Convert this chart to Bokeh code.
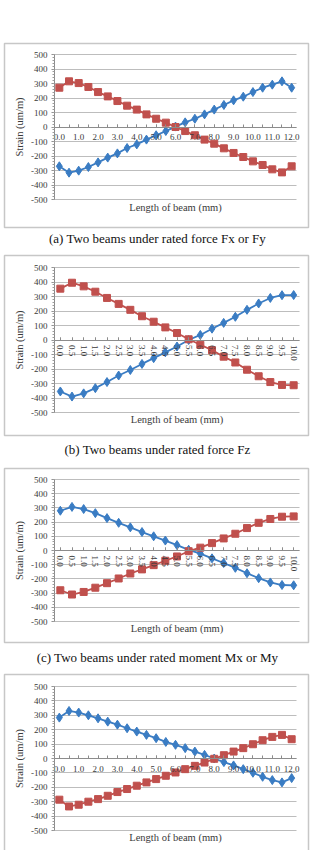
from bokeh.plotting import figure
from bokeh.models import (Range1d, SingleIntervalTicker, FixedTicker, PrintfTickFormatter,
                          Label, BoxAnnotation, ColumnDataSource)
from bokeh.layouts import column
from bokeh.embed import file_html
from bokeh.resources import INLINE

# ---------------- data ----------------
x_12 = ["0.0", "0.5", "1.0", "1.5", "2.0", "2.5", "3.0", "3.5", "4.0", "4.5", "5.0", "5.5", "6.0",
        "6.5", "7.0", "7.5", "8.0", "8.5", "9.0", "9.5", "10.0", "10.5", "11.0", "11.5", "12.0"]
x_10 = ["0.0", "0.5", "1.0", "1.5", "2.0", "2.5", "3.0", "3.5", "4.0", "4.5", "5.0",
        "5.5", "6.0", "6.5", "7.0", "7.5", "8.0", "8.5", "9.0", "9.5", "10.0"]
x_12_tick_labels = ["0.0", "1.0", "2.0", "3.0", "4.0", "5.0", "6.0", "7.0", "8.0", "9.0",
                    "10.0", "11.0", "12.0"]
x_10_tick_labels = x_10

a_blue = [-271, -315, -301, -276, -244, -211, -182, -145, -120, -87, -57, -28, 3,
          32, 57, 87, 120, 152, 184, 209, 241, 271, 292, 315, 271]
a_red = [271, 315, 303, 276, 241, 211, 179, 147, 120, 87, 57, 30, 0,
         -28, -57, -87, -115, -147, -179, -207, -237, -262, -292, -313, -271]

b_blue = [-355, -390, -368, -332, -290, -245, -207, -165, -125, -85, -45,
          0, 35, 78, 118, 160, 208, 252, 290, 309, 310]
b_red = [354, 395, 370, 333, 290, 249, 208, 164, 126, 87, 48,
         5, -33, -70, -115, -155, -205, -250, -290, -310, -312]

c_blue = [280, 307, 292, 263, 228, 195, 163, 130, 100, 70, 38,
          5, -22, -55, -88, -122, -160, -195, -225, -243, -245]
c_red = [-280, -310, -292, -262, -230, -197, -162, -133, -103, -72, -42,
         -5, 20, 52, 85, 118, 158, 195, 222, 238, 240]

d_blue = [284, 330, 319, 300, 279, 256, 235, 210, 187, 164, 141, 115, 95,
          72, 48, 25, 0, -25, -48, -74, -99, -127, -150, -166, -136]
d_red = [-286, -333, -321, -300, -282, -259, -233, -212, -189, -166, -143, -120, -97,
         -74, -51, -28, -2, 23, 48, 72, 99, 127, 150, 164, 134]

captions = ["(a) Two beams under rated force Fx or Fy",
            "(b) Two beams under rated force Fz",
            "(c) Two beams under rated moment Mx or My",
            ""]
y_ticks = [-500, -400, -300, -200, -100, 0, 100, 200, 300, 400, 500]
y_tick_labels = ["-500", "-400", "-300", "-200", "-100", "0", "100", "200", "300", "400", "500"]
x_title = "Length of beam (mm)"
y_title = "Strain (um/m)"

# ---------------- style ----------------
BLUE = "#3a7cc3"
RED = "#c0504d"
FONT = "Liberation Serif"
TXT = "#3a3a3a"
W = 314


def panel(cats, tick_labels, blue, red, caption, H, box_top, box_bottom, ftop, fh, fleft, fright,
          xl_y, cap_y, vertical):
    xs = [float(c) for c in cats]
    x0, x1 = xs[0] - 0.25, xs[-1] + 0.25           # category span of the plot area
    ppu_x = (fright - fleft) / (x1 - x0)
    ppu_y = fh / (y_ticks[-1] - y_ticks[0])
    xr = Range1d(x0 - fleft / ppu_x, x1 + (W - fright) / ppu_x)
    yr = Range1d(y_ticks[0] - (H - ftop - fh) / ppu_y, y_ticks[-1] + ftop / ppu_y)

    p = figure(x_range=xr, y_range=yr, width=W, height=H, min_border=0,
               output_backend="svg", toolbar_location=None)
    p.outline_line_color = None
    p.background_fill_color = "white"
    p.border_fill_color = "white"

    src = ColumnDataSource(dict(x=xs, blue=blue, red=red))
    p.line("x", "blue", source=src, line_color=BLUE, line_width=1.8)
    p.scatter("x", "blue", source=src, marker="diamond", size=9, fill_color=BLUE, line_color=BLUE)
    p.line("x", "red", source=src, line_color=RED, line_width=1.8)
    p.scatter("x", "red", source=src, marker="square", size=7, fill_color=RED, line_color=RED)

    # y axis at the plot-area left edge
    yax = p.yaxis[0]
    yax.fixed_location = x0
    yax.bounds = (y_ticks[0], y_ticks[-1])
    yax.ticker = SingleIntervalTicker(interval=100, num_minor_ticks=5)
    yax.major_label_overrides = {t: l for t, l in zip(y_ticks, y_tick_labels)}
    yax.axis_line_color = "#8c8c8c"
    yax.major_tick_line_color = "#8c8c8c"
    yax.minor_tick_line_color = "#9c9c9c"
    yax.major_tick_out = 3
    yax.major_tick_in = 0
    yax.minor_tick_out = 2
    yax.minor_tick_in = 0
    yax.major_label_standoff = 4
    yax.major_label_text_font = FONT
    yax.major_label_text_font_size = "9px"
    yax.major_label_text_color = TXT
    yax.axis_label = y_title
    yax.axis_label_text_font = FONT
    yax.axis_label_text_font_style = "normal"
    yax.axis_label_text_font_size = "10.5px"
    yax.axis_label_text_color = TXT
    yax.axis_label_standoff = 3

    # x axis crossing at zero
    xax = p.xaxis[0]
    xax.fixed_location = 0
    xax.bounds = (x0, x1)
    xax.ticker = FixedTicker(ticks=[float(t) for t in tick_labels], minor_ticks=xs)
    xax.formatter = PrintfTickFormatter(format="%.1f")
    xax.axis_line_color = "#8c8c8c"
    xax.major_tick_line_color = "#8c8c8c"
    xax.minor_tick_line_color = "#8c8c8c"
    xax.major_tick_in = 3
    xax.major_tick_out = 0
    xax.minor_tick_in = 3
    xax.minor_tick_out = 0
    xax.major_label_text_font = FONT
    xax.major_label_text_font_size = "9px"
    xax.major_label_text_color = TXT
    xax.major_label_standoff = 7
    if vertical:
        xax.major_label_orientation = "vertical"
        xax.major_label_standoff = 5

    p.xgrid.grid_line_color = None
    p.ygrid.grid_line_color = "#bdbdbd"
    p.ygrid.grid_line_width = 1
    p.ygrid.bounds = (y_ticks[0], y_ticks[-1])
    p.ygrid.cross_bounds = (x0, x1)

    # chart-area border
    p.add_layout(BoxAnnotation(left=4, right=308, top=box_top, bottom=box_bottom,
                               left_units="canvas", right_units="canvas",
                               top_units="canvas", bottom_units="canvas",
                               fill_color=None, fill_alpha=0,
                               line_color="#444444", line_width=1.5))
    p.add_layout(Label(x=(fleft + fright) / 2, y=xl_y, x_units="canvas", y_units="canvas",
                       text=x_title, text_align="center", text_baseline="middle",
                       text_font=FONT, text_font_size="10.5px", text_color=TXT))
    if caption:
        p.add_layout(Label(x=W / 2, y=cap_y, x_units="canvas", y_units="canvas", text=caption,
                           text_align="center", text_baseline="middle", text_font=FONT,
                           text_font_size="13px", text_color="#111111"))
    return p


pa = panel(x_12, x_12_tick_labels, a_blue, a_red, captions[0], H=252, box_top=43, box_bottom=227,
           ftop=54, fh=145, fleft=54, fright=296, xl_y=207, cap_y=238, vertical=False)
pb = panel(x_10, x_10_tick_labels, b_blue, b_red, captions[1], H=214, box_top=3, box_bottom=183,
           ftop=15, fh=145, fleft=54, fright=299, xl_y=167, cap_y=197, vertical=True)
pc = panel(x_10, x_10_tick_labels, c_blue, c_red, captions[2], H=206, box_top=2, box_bottom=176,
           ftop=13, fh=142, fleft=54, fright=299, xl_y=162, cap_y=191, vertical=True)
pd = panel(x_12, x_12_tick_labels, d_blue, d_red, captions[3], H=178, box_top=2, box_bottom=190,
           ftop=14, fh=144, fleft=54, fright=296, xl_y=165, cap_y=None, vertical=False)

layout = column(pa, pb, pc, pd, spacing=0)
open("out.html", "w").write(file_html(layout, INLINE))
